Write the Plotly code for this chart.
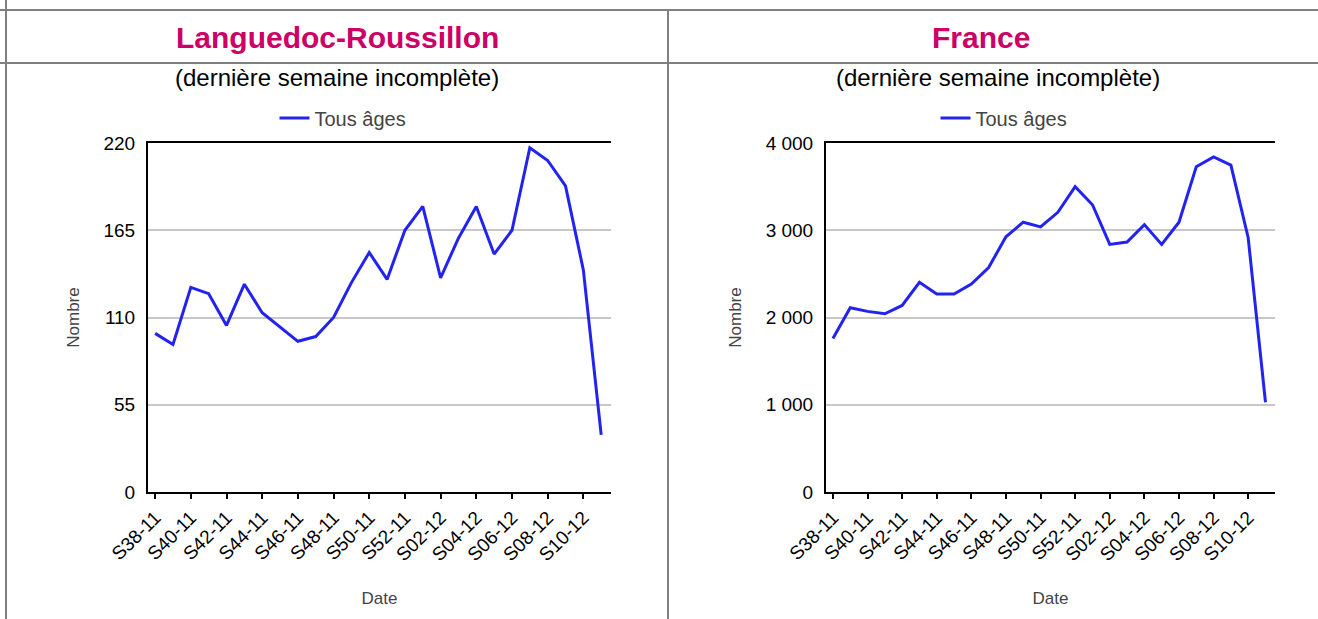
import plotly.graph_objects as go

# weekly counts, S38-11 .. S11-12
weeks = ["S38-11", "S39-11", "S40-11", "S41-11", "S42-11", "S43-11", "S44-11",
         "S45-11", "S46-11", "S47-11", "S48-11", "S49-11", "S50-11", "S51-11",
         "S52-11", "S01-12", "S02-12", "S03-12", "S04-12", "S05-12", "S06-12",
         "S07-12", "S08-12", "S09-12", "S10-12", "S11-12"]
tick_weeks = ["S38-11", "S40-11", "S42-11", "S44-11", "S46-11", "S48-11", "S50-11",
              "S52-11", "S02-12", "S04-12", "S06-12", "S08-12", "S10-12"]

lr_values = [100, 93, 129, 125, 105, 131, 113, 104, 95, 98, 110, 132, 151,
             134, 165, 180, 135, 160, 180, 150, 165, 217, 209, 193, 140, 36]
fr_values = [1760, 2112, 2070, 2043, 2138, 2403, 2270, 2270, 2384, 2573, 2925,
             3092, 3039, 3205, 3500, 3292, 2838, 2865, 3065, 2838, 3092, 3727,
             3841, 3746, 2914, 1029]

lr_ticks = [0, 55, 110, 165, 220]
fr_ticks = [0, 1000, 2000, 3000, 4000]
fr_ticktext = ["0", "1 000", "2 000", "3 000", "4 000"]

regions = ["Languedoc-Roussillon", "France"]
subtitle = "(dernière semaine incomplète)"
series_name = "Tous âges"

W, H = 1318, 619
FONT = "Liberation Sans, Arial, sans-serif"
BLUE = "#2323F0"
MAGENTA = "#CC0066"
BORDER = "#808080"

def px(x):
    return x / W

def py(y):
    return 1 - y / H

fig = go.Figure()
fig.add_trace(go.Scatter(x=weeks, y=lr_values, mode="lines", name=series_name,
                         line=dict(color=BLUE, width=3), xaxis="x", yaxis="y",
                         legend="legend", showlegend=True))
fig.add_trace(go.Scatter(x=weeks, y=fr_values, mode="lines", name=series_name,
                         line=dict(color=BLUE, width=3), xaxis="x2", yaxis="y2",
                         legend="legend2", showlegend=True))

xcommon = dict(type="category", categoryorder="array", categoryarray=weeks,
               range=[-0.4, 25.55], tickvals=tick_weeks, tickangle=-45,
               showline=True, mirror=True, linecolor="black", linewidth=2,
               ticks="outside", ticklen=5, tickwidth=2, tickcolor="black",
               showgrid=False, automargin=False,
               tickfont=dict(size=19, color="black"),
               title=dict(text="Date", font=dict(size=17, color="#444"), standoff=28))
ycommon = dict(showline=True, linecolor="black", linewidth=2, ticks="",
               gridcolor="#c8c8c8", gridwidth=2, zeroline=False,
               ticklabelstandoff=7, automargin=False,
               tickfont=dict(size=19, color="black"),
               title=dict(text="Nombre", font=dict(size=17, color="#444"), standoff=20))

ydom = [py(492), py(143)]
fig.update_layout(
    width=W, height=H, margin=dict(l=0, r=0, t=0, b=0, autoexpand=False),
    paper_bgcolor="white", plot_bgcolor="white",
    font=dict(family=FONT), showlegend=True,
    xaxis=dict(xcommon, domain=[px(148), px(611)], anchor="y"),
    yaxis=dict(ycommon, domain=ydom, anchor="x", range=[0, 220], tickvals=lr_ticks),
    xaxis2=dict(xcommon, domain=[px(826), px(1275)], anchor="y2"),
    yaxis2=dict(ycommon, domain=ydom, anchor="x2", range=[0, 4000],
                tickvals=fr_ticks, ticktext=fr_ticktext),
    legend=dict(x=px(343), y=py(118), xanchor="center", yanchor="middle",
                font=dict(size=20, color="#444"), bgcolor="rgba(0,0,0,0)"),
    legend2=dict(x=px(1004), y=py(118), xanchor="center", yanchor="middle",
                 font=dict(size=20, color="#444"), bgcolor="rgba(0,0,0,0)"),
)

# table borders
lines = [
    (0, py(10), 1, py(10)),
    (0, py(63), 1, py(63)),
    (px(6), 0, px(6), 1),
    (px(668), 0, px(668), py(10)),
]
for x0, y0, x1, y1 in lines:
    fig.add_shape(type="line", xref="paper", yref="paper", x0=x0, y0=y0, x1=x1, y1=y1,
                  line=dict(color=BORDER, width=2))

# headers and subtitles
for name, xt, xs in zip(regions, [337.5, 981], [337, 998]):
    fig.add_annotation(text="<b>%s</b>" % name, x=px(xt), y=py(37), xref="paper", yref="paper",
                       showarrow=False, xanchor="center", yanchor="middle",
                       font=dict(size=30, color=MAGENTA))
    fig.add_annotation(text=subtitle, x=px(xs), y=py(78), xref="paper", yref="paper",
                       showarrow=False, xanchor="center", yanchor="middle",
                       font=dict(size=24, color="black"))

# page body margin off so the figure sits at the window origin
fig.write_html("out.html", config={"displayModeBar": False},
               post_script="document.body.style.margin='0';")
